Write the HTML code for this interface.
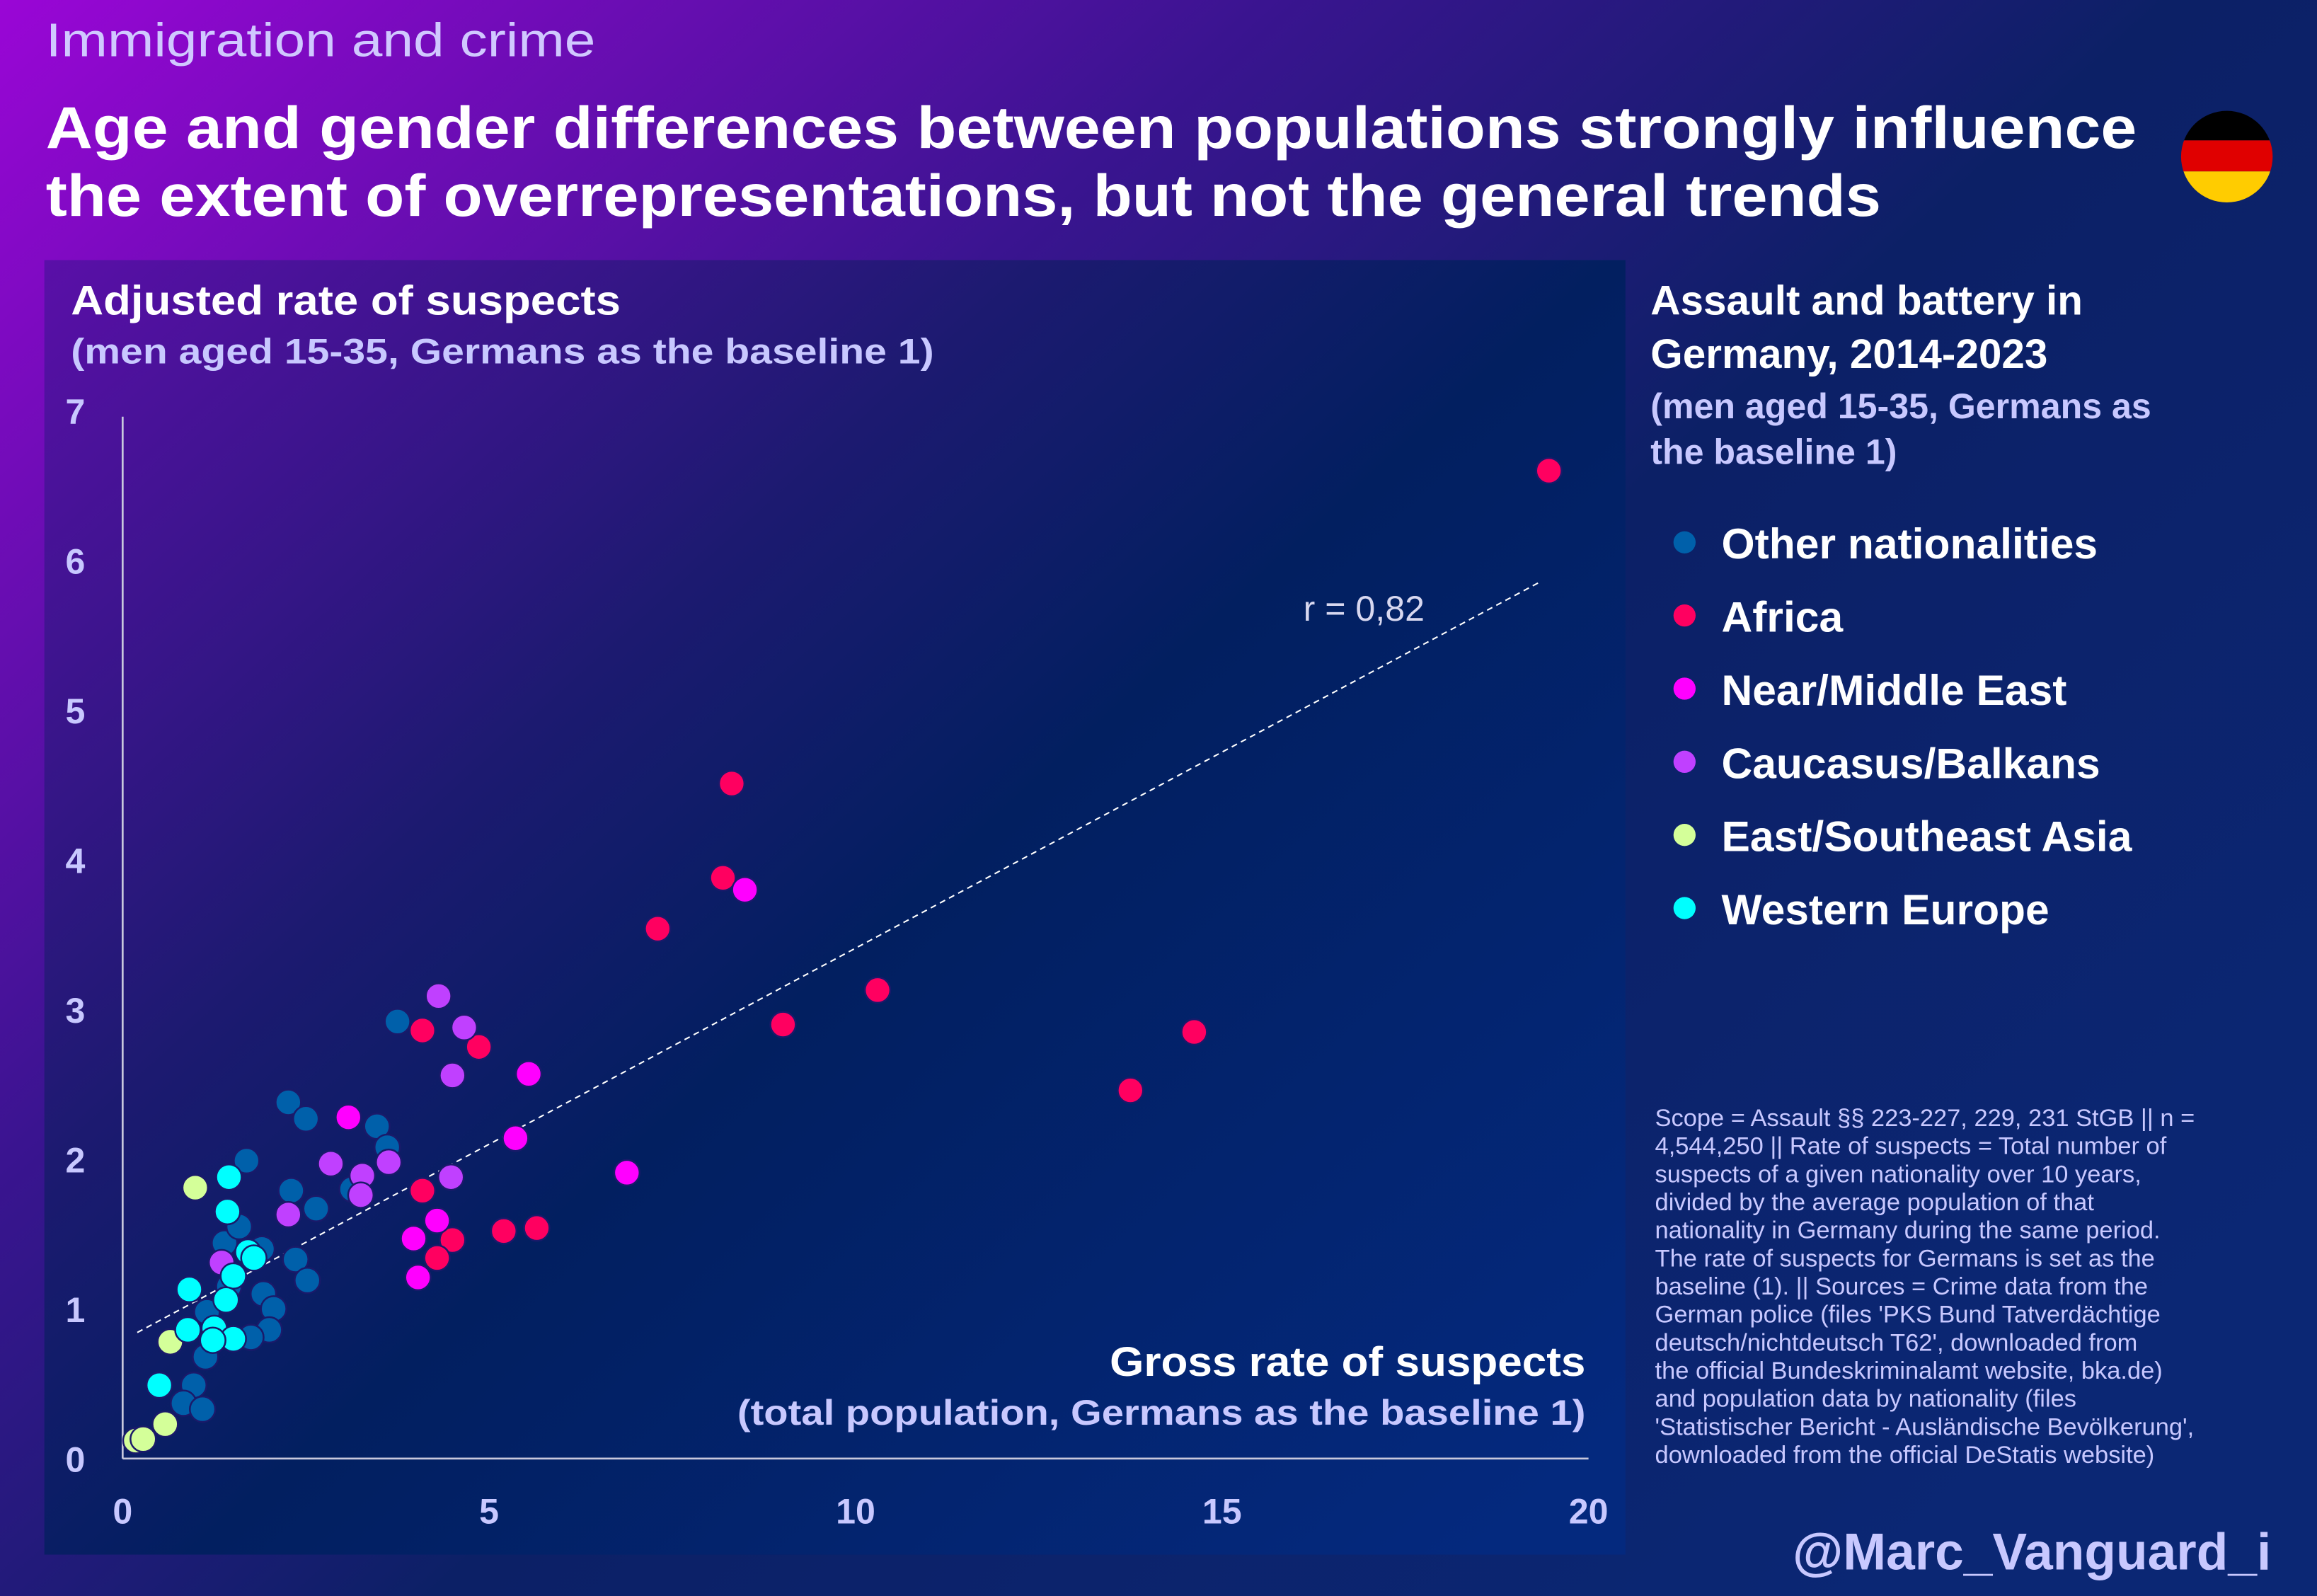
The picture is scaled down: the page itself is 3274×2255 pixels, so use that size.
<!DOCTYPE html>
<html><head><meta charset="utf-8"><style>
html,body{margin:0;padding:0;background:#0a1f66;}
svg{display:block;}
text{font-family:"Liberation Sans",sans-serif;}
</style></head><body>
<svg id="chart" width="3274" height="2255" viewBox="0 0 1568 1080" preserveAspectRatio="none" xmlns="http://www.w3.org/2000/svg">
<defs>
<linearGradient id="bg" x1="0" y1="0" x2="1" y2="0.75">
<stop offset="0" stop-color="#9a06d6"/><stop offset="0.35" stop-color="#3a1490"/><stop offset="0.6" stop-color="#0c2066"/><stop offset="1" stop-color="#0b2774"/>
</linearGradient>
<linearGradient id="panel" x1="0" y1="0" x2="1" y2="0.9">
<stop offset="0" stop-color="#5a0fa8"/><stop offset="0.35" stop-color="#1c1a70"/><stop offset="0.55" stop-color="#021f60"/><stop offset="1" stop-color="#04297e"/>
</linearGradient>
<clipPath id="flagclip"><circle cx="1507" cy="106" r="31"/></clipPath>
</defs>
<rect x="0" y="0" width="1568" height="1080" fill="url(#bg)"/>
<rect x="30" y="176" width="1070" height="876" fill="url(#panel)"/>
<text x="31" y="38" font-size="32" fill="#d0c8ff" textLength="372" lengthAdjust="spacingAndGlyphs">Immigration and crime</text>
<text x="31" y="100" font-size="40" font-weight="bold" fill="#fff" textLength="1415" lengthAdjust="spacingAndGlyphs">Age and gender differences between populations strongly influence</text>
<text x="31" y="146" font-size="40" font-weight="bold" fill="#fff" textLength="1242" lengthAdjust="spacingAndGlyphs">the extent of overrepresentations, but not the general trends</text>
<g clip-path="url(#flagclip)">
<rect x="1470" y="70" width="80" height="25" fill="#000"/><rect x="1470" y="95" width="80" height="21" fill="#e00000"/><rect x="1470" y="116" width="80" height="30" fill="#ffcc00"/>
</g>
<text x="48" y="213" font-size="28" font-weight="bold" fill="#fff" textLength="372" lengthAdjust="spacingAndGlyphs">Adjusted rate of suspects</text>
<text x="48" y="246" font-size="24" font-weight="bold" fill="#c8c8ff" textLength="584" lengthAdjust="spacingAndGlyphs">(men aged 15-35, Germans as the baseline 1)</text>
<text x="1073" y="931" font-size="28" font-weight="bold" fill="#fff" text-anchor="end" textLength="322" lengthAdjust="spacingAndGlyphs">Gross rate of suspects</text>
<text x="1073" y="964" font-size="24" font-weight="bold" fill="#c8c8ff" text-anchor="end" textLength="574" lengthAdjust="spacingAndGlyphs">(total population, Germans as the baseline 1)</text>
<g id="axes"></g>
<g id="trend"></g>
<g id="dots"></g>
<text x="882" y="420" font-size="24" fill="#d8d8f0">r = 0,82</text>
<text font-size="28" font-weight="bold" fill="#fff"><tspan x="1117" y="213">Assault and battery in</tspan><tspan x="1117" y="249">Germany, 2014-2023</tspan></text>
<text font-size="24" font-weight="bold" fill="#c8c8ff"><tspan x="1117" y="283">(men aged 15-35, Germans as</tspan><tspan x="1117" y="314">the baseline 1)</tspan></text>
<g id="legend"></g>
<text font-size="16.5" fill="#c8c8ff">
<tspan x="1120" y="762">Scope = Assault §§ 223-227, 229, 231 StGB || n =</tspan>
<tspan x="1120" y="781">4,544,250 || Rate of suspects = Total number of</tspan>
<tspan x="1120" y="800">suspects of a given nationality over 10 years,</tspan>
<tspan x="1120" y="819">divided by the average population of that</tspan>
<tspan x="1120" y="838">nationality in Germany during the same period.</tspan>
<tspan x="1120" y="857">The rate of suspects for Germans is set as the</tspan>
<tspan x="1120" y="876">baseline (1). || Sources = Crime data from the</tspan>
<tspan x="1120" y="895">German police (files 'PKS Bund Tatverdächtige</tspan>
<tspan x="1120" y="914">deutsch/nichtdeutsch T62', downloaded from</tspan>
<tspan x="1120" y="933">the official Bundeskriminalamt website, bka.de)</tspan>
<tspan x="1120" y="952">and population data by nationality (files</tspan>
<tspan x="1120" y="971">'Statistischer Bericht - Ausländische Bevölkerung',</tspan>
<tspan x="1120" y="990">downloaded from the official DeStatis website)</tspan>
</text>
<text x="1537" y="1062" font-size="35" font-weight="bold" fill="#c8c8ff" text-anchor="end">@Marc_Vanguard_i</text>
</svg>
<script>
const xTicks = [0, 5, 10, 15, 20];
const yTicks = [0, 1, 2, 3, 4, 5, 6, 7];
const seriesNames = ["Other nationalities", "Africa", "Near/Middle East", "Caucasus/Balkans", "East/Southeast Asia", "Western Europe"];
const seriesColors = ["#0060aa", "#ff0060", "#ff00ff", "#c040ff", "#d4ff99", "#00ffff"];
const otherX = [3.75,2.26,2.50,3.47,3.61,1.69,2.30,3.13,2.64,1.39,1.90,2.36,2.52,1.92,2.06,2.00,1.75,1.13,0.97,0.83,1.09,1.45,1.59,1.15];
const otherY = [2.92,2.38,2.27,2.22,2.08,1.99,1.79,1.80,1.67,1.44,1.40,1.33,1.19,1.10,1.00,0.86,0.81,0.68,0.49,0.37,0.33,1.15,1.55,0.98];
const africaX = [19.46,8.31,8.19,7.30,10.30,9.01,14.62,13.75,4.09,4.86,4.09,4.50,4.29,5.20,5.65];
const africaY = [6.60,4.51,3.88,3.54,3.13,2.90,2.85,2.46,2.86,2.75,1.79,1.46,1.34,1.52,1.54];
const nearX = [8.49,5.54,3.08,5.36,6.88,4.29,3.97,4.03];
const nearY = [3.80,2.57,2.28,2.14,1.91,1.59,1.47,1.21];
const caucX = [4.31,4.66,4.50,3.63,2.84,3.27,3.25,4.48,2.26,1.35];
const caucY = [3.09,2.88,2.56,1.98,1.97,1.89,1.76,1.88,1.63,1.31];
const asiaX = [0.99,0.65,0.58,0.18,0.28];
const asiaY = [1.81,0.78,0.23,0.12,0.13];
const westX = [1.45,1.43,1.51,1.71,1.79,0.91,1.41,1.25,1.51,0.89,1.23,0.50];
const westY = [1.88,1.65,1.22,1.38,1.34,1.13,1.06,0.87,0.80,0.86,0.79,0.49];
const trendX = [0.2, 19.35];
const trendIntercept = 0.79;
const trendSlope = 0.262;

const NS = "http://www.w3.org/2000/svg";
const X0 = 83, X1 = 1075, Y0 = 987, Y7 = 278;
const sx = v => X0 + (v - 0) / 20 * (X1 - X0);
const sy = v => Y0 - v / 7 * (Y0 - Y7);
function mk(tag, attrs, parent) { const e = document.createElementNS(NS, tag); for (const k in attrs) e.setAttribute(k, attrs[k]); parent.appendChild(e); return e; }

const axes = document.getElementById('axes');
const yl = mk('line', {x1: X0, y1: 282, x2: X0, y2: Y0, stroke: '#c8c8dc', 'stroke-width': 1.3}, axes);


const xl = mk('line', {x1: X0, y1: Y0, x2: X1, y2: Y0, stroke: '#c8c8dc', 'stroke-width': 1.3}, axes);


xTicks.forEach(t => {
  const e = mk('text', {x: sx(t), y: 1031, 'font-size': 24, 'font-weight': 'bold', fill: '#c8c8ff', 'text-anchor': 'middle'}, axes);
  e.textContent = t;
  
  
});
yTicks.forEach(t => {
  const e = mk('text', {x: 51, y: sy(t) + 9, 'font-size': 24, 'font-weight': 'bold', fill: '#c8c8ff', 'text-anchor': 'middle'}, axes);
  e.textContent = t;
  
  
});

const tr = mk('line', {x1: sx(trendX[0]), y1: sy(trendIntercept + trendSlope * trendX[0]), x2: sx(trendX[1]), y2: sy(trendIntercept + trendSlope * trendX[1]), stroke: '#ffffff', 'stroke-width': 1, 'stroke-dasharray': '4 3'}, document.getElementById('trend'));



const dots = document.getElementById('dots');
const sets = [[otherX, otherY], [africaX, africaY], [nearX, nearY], [caucX, caucY], [asiaX, asiaY], [westX, westY]];
sets.forEach((s, i) => {
  s[0].forEach((xv, j) => {
    const c = mk('circle', {cx: sx(xv), cy: sy(s[1][j]), r: 8.6, fill: seriesColors[i], stroke: '#1a1a6a', 'stroke-width': 1.2}, dots);
    
    
  });
});

const legend = document.getElementById('legend');
seriesNames.forEach((n, i) => {
  const y = 367 + i * 49.5;
  const c = mk('circle', {cx: 1140, cy: y, r: 7.5, fill: seriesColors[i]}, legend);
  
  
  const t = mk('text', {x: 1165, y: y + 11, 'font-size': 29, 'font-weight': 'bold', fill: '#fff'}, legend);
  t.textContent = n;
  
  
});
</script>
</body></html>
